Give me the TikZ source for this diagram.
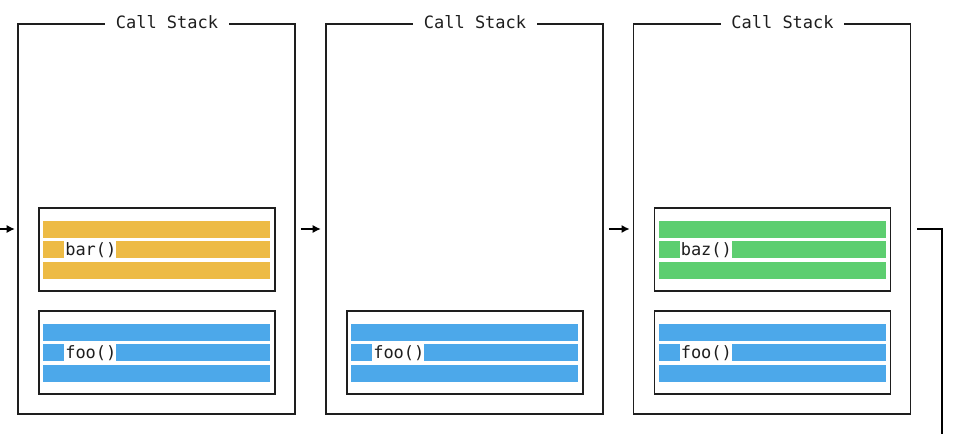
\documentclass[tikz,border=0pt]{standalone}
\usepackage{fontspec}
\setmonofont{DejaVu Sans Mono}
\usetikzlibrary{arrows.meta}
\definecolor{barorange}{RGB}{237,187,69}
\definecolor{fooblue}{RGB}{76,168,234}
\definecolor{bazgreen}{RGB}{93,206,112}
\definecolor{ink}{RGB}{30,30,30}
\newcommand\stackframe[5]{% name, cx, cy, colour, label
  \node[innerbox] (#1) at (#2,#3) {};
  \fill[#4] ({#2-114},{#3-28.5}) rectangle ({#2+113},{#3-11.5});
  \fill[#4] ({#2-114},{#3-8}) rectangle ({#2-93},{#3+9});
  \fill[#4] ({#2-41},{#3-8}) rectangle ({#2+113},{#3+9});
  \fill[#4] ({#2-114},{#3+12.5}) rectangle ({#2+113},{#3+29.5});
  \node[lbl] (#1l) at ({#2-92},{#3+6}) {#5};
}
\tikzset{
  panel/.style={draw=ink, line width=0.9pt, minimum width=207.75pt, minimum height=292.5pt, inner sep=0pt},
  innerbox/.style={draw=ink, line width=0.9pt, minimum width=177pt, minimum height=62.25pt, inner sep=0pt},
  title/.style={fill=white, text=ink, font=\ttfamily\fontsize{12.75pt}{14pt}\selectfont, inner xsep=8.1pt, inner ysep=1pt, anchor=base},
  lbl/.style={text=ink, font=\ttfamily\fontsize{12.75pt}{14pt}\selectfont, inner sep=0pt, anchor=base west},
  arr/.style={draw=black, line width=0.9pt, -{Latex[length=6pt,width=6pt]}},
  conn/.style={draw=black, line width=0.9pt},
}
\begin{document}
\begin{tikzpicture}[x=0.75pt,y=-0.75pt]
\useasboundingbox (0,0) rectangle (960,434);
% panels
\node[panel] (p1) at (156.5,219) {};
\node[panel] (p2) at (464.5,219) {};
\node[panel] (p3) at (772,219) {};
\node[title] (t1) at (167,29) {Call Stack};
\node[title] (t2) at (475,29) {Call Stack};
\node[title] (t3) at (782.5,29) {Call Stack};
% frames
\stackframe{bar1}{157}{249.5}{barorange}{bar()}
\stackframe{foo1}{157}{352.5}{fooblue}{foo()}
\stackframe{foo2}{465}{352.5}{fooblue}{foo()}
\stackframe{baz3}{772.5}{249.5}{bazgreen}{baz()}
\stackframe{foo3}{772.5}{352.5}{fooblue}{foo()}
% connectors
\coordinate (r) at (0,229);
\coordinate (in) at (0,229);
\coordinate (turn) at (942,229);
\coordinate (out) at (942,434);
\draw[arr, shorten >=2pt] (in) -- (p1.west |- r);
\draw[arr, shorten <=4pt, shorten >=3.5pt] (p1.east |- r) -- (p2.west |- r);
\draw[arr, shorten <=4pt, shorten >=2.5pt] (p2.east |- r) -- (p3.west |- r);
\draw[conn, shorten <=4.5pt] (p3.east |- r) -- (turn) -- (out);
\end{tikzpicture}
\end{document}
